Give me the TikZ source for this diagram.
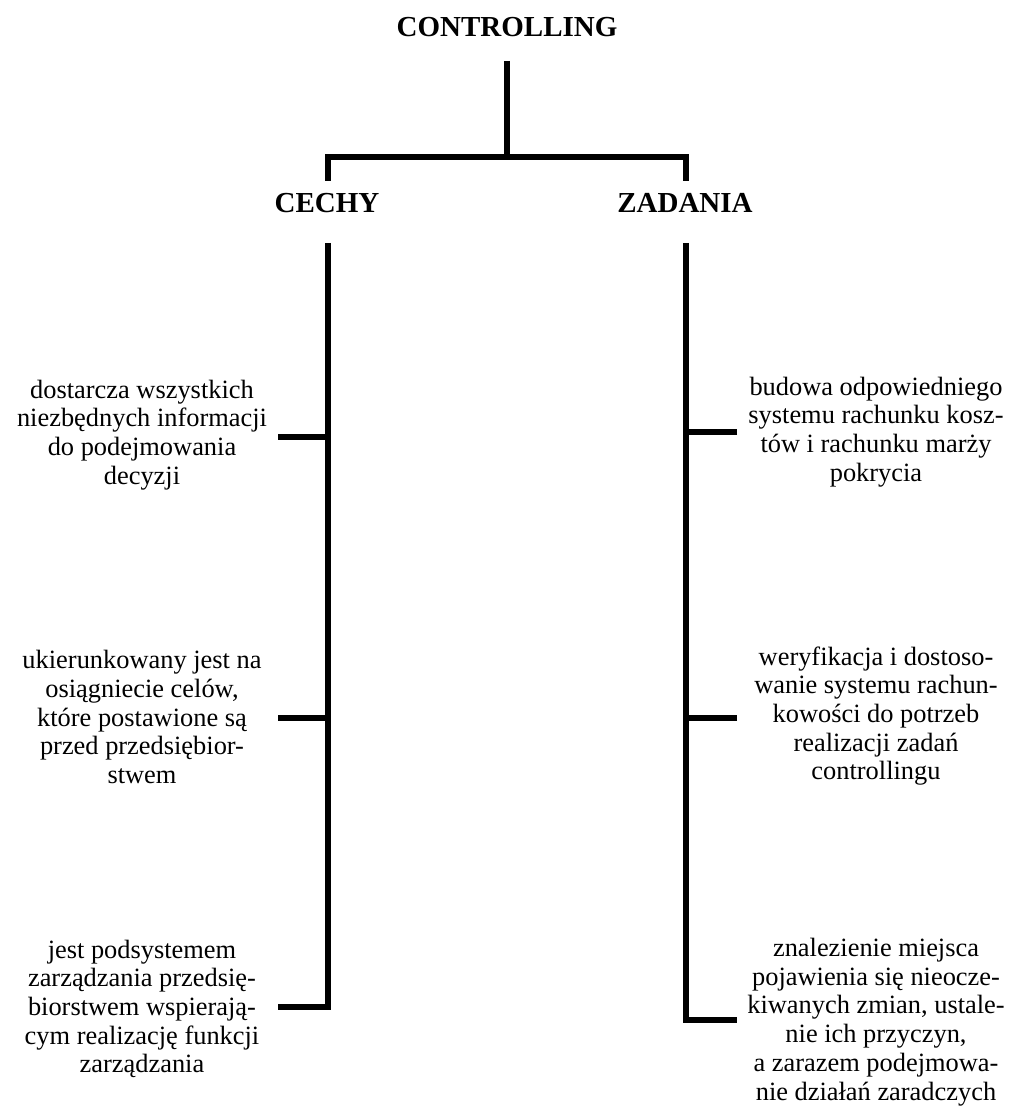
\documentclass[tikz,border=0pt]{standalone}
\usepackage{fontspec}
\setmainfont{Liberation Serif}
\usepackage{tikz}
\usetikzlibrary{positioning}
\tikzset{
	bar/.style={draw=black,line width=2.75pt,line join=miter},
	head/.style={font=\fontsize{14.5}{17}\selectfont\bfseries,inner sep=0pt,anchor=base},
	item/.style={font=\fontsize{13.2}{14.35}\selectfont,align=center,inner sep=0pt},
}

\begin{document}
\begin{tikzpicture}[x=0.5pt,y=-0.5pt]
			\useasboundingbox (0,0) rectangle (1012,1106);
			% heads
			\node[head] (ctrl) at (507,37) {CONTROLLING};
			\node[head] (cechy) at (327,213) {CECHY};
			\node[head] (zadania) at (685,213) {ZADANIA};
			% fork points
			\coordinate (root) at (507,61);
			\coordinate (fork) at (507,157);
			\coordinate (forkL) at (328,157);
			\coordinate (forkR) at (686,157);
			\coordinate (stubL) at (328,181);
			\coordinate (stubR) at (686,181);
			\coordinate (spineL) at (328,243);
			\coordinate (spineR) at (686,243);
			% tick ends
			\coordinate (l1) at (278,437);
			\coordinate (l2) at (278,718);
			\coordinate (l3) at (278,1007);
			\coordinate (r1) at (737,432);
			\coordinate (r2) at (737,718);
			\coordinate (r3) at (737,1020);
			\draw[bar] (root)--(fork);
			\draw[bar] (stubL)--(forkL)--(forkR)--(stubR);
			\draw[bar] (spineL)|-(l3);
			\draw[bar] (spineR)|-(r3);
			\draw[bar] (l1)--(l1-|spineL);
			\draw[bar] (l2)--(l2-|spineL);
			\draw[bar] (r1)--(r1-|spineR);
			\draw[bar] (r2)--(r2-|spineR);
			% CECHY items
			\node[item] (c1) at (142,435) {dostarcza wszystkich\\niezbędnych informacji\\do podejmowania\\decyzji};
			\node[item] (c2) at (142,717) {ukierunkowany jest na\\osiągniecie celów,\\które postawione są\\przed przedsiębior-\\stwem};
			\node[item] (c3) at (142,1009) {jest podsystemem\\zarządzania przedsię-\\biorstwem wspierają-\\cym realizację funkcji\\zarządzania};
			% ZADANIA items
			\node[item] (z1) at (876,432) {budowa odpowiedniego\\systemu rachunku kosz-\\tów i rachunku marży\\pokrycia};
			\node[item] (z2) at (876,716) {weryfikacja i dostoso-\\wanie systemu rachun-\\kowości do potrzeb\\realizacji zadań\\controllingu};
			\node[item] (z3) at (876,1022) {znalezienie miejsca\\pojawienia się nieocze-\\kiwanych zmian, ustale-\\nie ich przyczyn,\\a zarazem podejmowa-\\nie działań zaradczych};
		\end{tikzpicture}
\end{document}
